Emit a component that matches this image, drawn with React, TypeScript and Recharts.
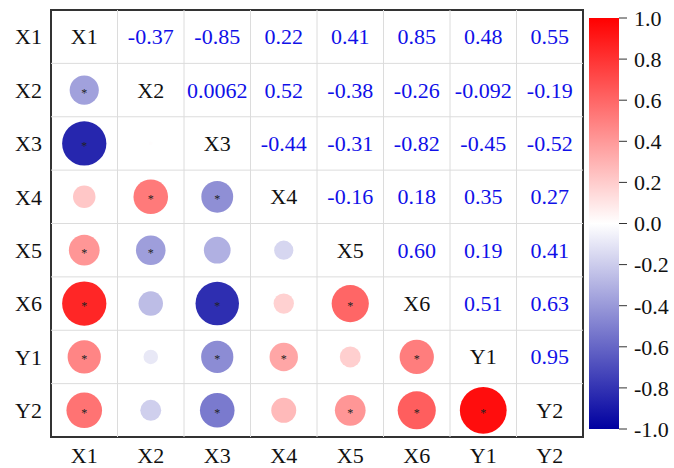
import React from 'react';
import {
  ScatterChart,
  Scatter,
  XAxis,
  YAxis,
  ReferenceLine,
  ReferenceArea,
  BarChart,
  Bar,
} from 'recharts';

// Variable names, in matrix order
const variables = ['X1', 'X2', 'X3', 'X4', 'X5', 'X6', 'Y1', 'Y2'];

// Pearson coefficients, upper triangle, one row per variable (columns to its right)
const corrX1 = [-0.37, -0.85, 0.22, 0.41, 0.85, 0.48, 0.55];
const corrX2 = [0.0062, 0.52, -0.38, -0.26, -0.092, -0.19];
const corrX3 = [-0.44, -0.31, -0.82, -0.45, -0.52];
const corrX4 = [-0.16, 0.18, 0.35, 0.27];
const corrX5 = [0.6, 0.19, 0.41];
const corrX6 = [0.51, 0.63];
const corrY1 = [0.95];

// Significance flags (p < 0.05), same layout as the coefficient rows
const sigX1 = [1, 1, 0, 1, 1, 1, 1];
const sigX2 = [0, 1, 1, 0, 0, 0];
const sigX3 = [1, 0, 1, 1, 1];
const sigX4 = [0, 0, 1, 0];
const sigX5 = [1, 0, 1];
const sigX6 = [1, 1];
const sigY1 = [1];

// Colour bar ticks
const scaleTicks = [1.0, 0.8, 0.6, 0.4, 0.2, 0.0, -0.2, -0.4, -0.6, -0.8, -1.0];
const scaleRange = [{ name: 'r', range: [-1, 1] }];

const corrRows = [corrX1, corrX2, corrX3, corrX4, corrX5, corrX6, corrY1];
const sigRows = [sigX1, sigX2, sigX3, sigX4, sigX5, sigX6, sigY1];

const FONT = '"Liberation Serif", "Times New Roman", serif';
const FS = 22;
const N = variables.length;
const gridLines = Array.from({ length: N - 1 }, (_, i) => i + 1);
const centers = Array.from({ length: N }, (_, i) => i + 0.5);

type CellDatum = {
  x: number;
  y: number;
  kind: 'upper' | 'lower' | 'diag';
  value: number;
  sig: number;
  label: string;
};

const formatCoef = (v: number) =>
  Math.abs(v) >= 0.1 ? v.toFixed(2) : v.toPrecision(2);

// blue (-1) -> white (0) -> red (+1)
const NEG = [0, 0, 160];
const POS = [255, 0, 0];
const colorFor = (v: number) => {
  const t = Math.min(1, Math.abs(v));
  const end = v < 0 ? NEG : POS;
  const c = end.map((e) => Math.round(255 + (e - 255) * t));
  return `rgb(${c[0]},${c[1]},${c[2]})`;
};

const cells: CellDatum[] = [];
variables.forEach((name, i) => {
  cells.push({ x: i + 0.5, y: i + 0.5, kind: 'diag', value: 1, sig: 0, label: name });
});
corrRows.forEach((row, i) => {
  row.forEach((v, k) => {
    const j = i + 1 + k;
    const sig = sigRows[i][k];
    cells.push({ x: j + 0.5, y: i + 0.5, kind: 'upper', value: v, sig, label: formatCoef(v) });
    cells.push({ x: i + 0.5, y: j + 0.5, kind: 'lower', value: v, sig, label: formatCoef(v) });
  });
});

const CellShape = (props: any) => {
  const { cx, cy, payload } = props;
  const d = payload as CellDatum;
  if (d.kind === 'diag') {
    return (
      <text x={cx} y={cy} textAnchor="middle" dominantBaseline="central" fontFamily={FONT} fontSize={FS} fill="#111">
        {d.label}
      </text>
    );
  }
  if (d.kind === 'upper') {
    return (
      <text x={cx} y={cy} textAnchor="middle" dominantBaseline="central" fontFamily={FONT} fontSize={FS} fill="#1010e8">
        {d.label}
      </text>
    );
  }
  const r = 24 * Math.sqrt(Math.abs(d.value));
  return (
    <g>
      <circle cx={cx} cy={cy} r={r} fill={colorFor(d.value)} />
      {d.sig ? (
        <text x={cx} y={cy + 6.5} textAnchor="middle" fontFamily={FONT} fontSize={12} fill="#222">
          *
        </text>
      ) : null}
    </g>
  );
};

export default function App() {
  return (
    <div style={{ position: 'absolute', left: 0, top: 0, width: 674, height: 468, background: '#fff' }}>
      <div style={{ position: 'absolute', left: 0, top: 0 }}>
        <ScatterChart width={674} height={468} margin={{ top: 10, right: 91, bottom: 0, left: 0 }}>
          <XAxis
            type="number"
            dataKey="x"
            domain={[0, N]}
            ticks={centers}
            interval={0}
            tickFormatter={(v: number) => variables[Math.floor(v)]}
            height={31}
            tickLine={false}
            axisLine={false}
            tickSize={0}
            tickMargin={10}
            tick={{ fontFamily: FONT, fontSize: FS, fill: '#111' }}
          />
          <YAxis
            type="number"
            dataKey="y"
            domain={[0, N]}
            reversed
            ticks={centers}
            interval={0}
            tickFormatter={(v: number) => variables[Math.floor(v)]}
            width={51}
            tickLine={false}
            axisLine={false}
            tickSize={0}
            tickMargin={9}
            tick={{ fontFamily: FONT, fontSize: FS, fill: '#111' }}
          />
          {gridLines.map((g) => (
            <ReferenceLine key={`v${g}`} x={g} stroke="#dcdcdc" strokeWidth={1} />
          ))}
          {gridLines.map((g) => (
            <ReferenceLine key={`h${g}`} y={g} stroke="#dcdcdc" strokeWidth={1} />
          ))}
          <Scatter data={cells} shape={CellShape} isAnimationActive={false} />
          <ReferenceArea x1={0} x2={N} y1={0} y2={N} fill="none" stroke="#333" strokeWidth={2} />
        </ScatterChart>
      </div>
      <div style={{ position: 'absolute', left: 589, top: 0 }}>
        <BarChart
          width={85}
          height={468}
          data={scaleRange}
          margin={{ top: 18, right: 0, bottom: 39, left: 0 }}
          barCategoryGap={0}
        >
          <defs>
            <linearGradient id="corrScale" x1="0" y1="0" x2="0" y2="1">
              <stop offset="0%" stopColor="rgb(255,0,0)" />
              <stop offset="50%" stopColor="rgb(255,255,255)" />
              <stop offset="100%" stopColor="rgb(0,0,160)" />
            </linearGradient>
          </defs>
          <XAxis dataKey="name" hide />
          <YAxis
            orientation="right"
            type="number"
            domain={[-1, 1]}
            ticks={scaleTicks}
            interval={0}
            tickFormatter={(v: number) => v.toFixed(1)}
            width={55}
            axisLine={false}
            tickLine={{ stroke: '#333', strokeWidth: 1 }}
            tickSize={8}
            tickMargin={7}
            tick={{ fontFamily: FONT, fontSize: FS, fill: '#111', textAnchor: 'start' }}
          />
          <Bar dataKey="range" fill="url(#corrScale)" isAnimationActive={false} />
        </BarChart>
      </div>
    </div>
  );
}
